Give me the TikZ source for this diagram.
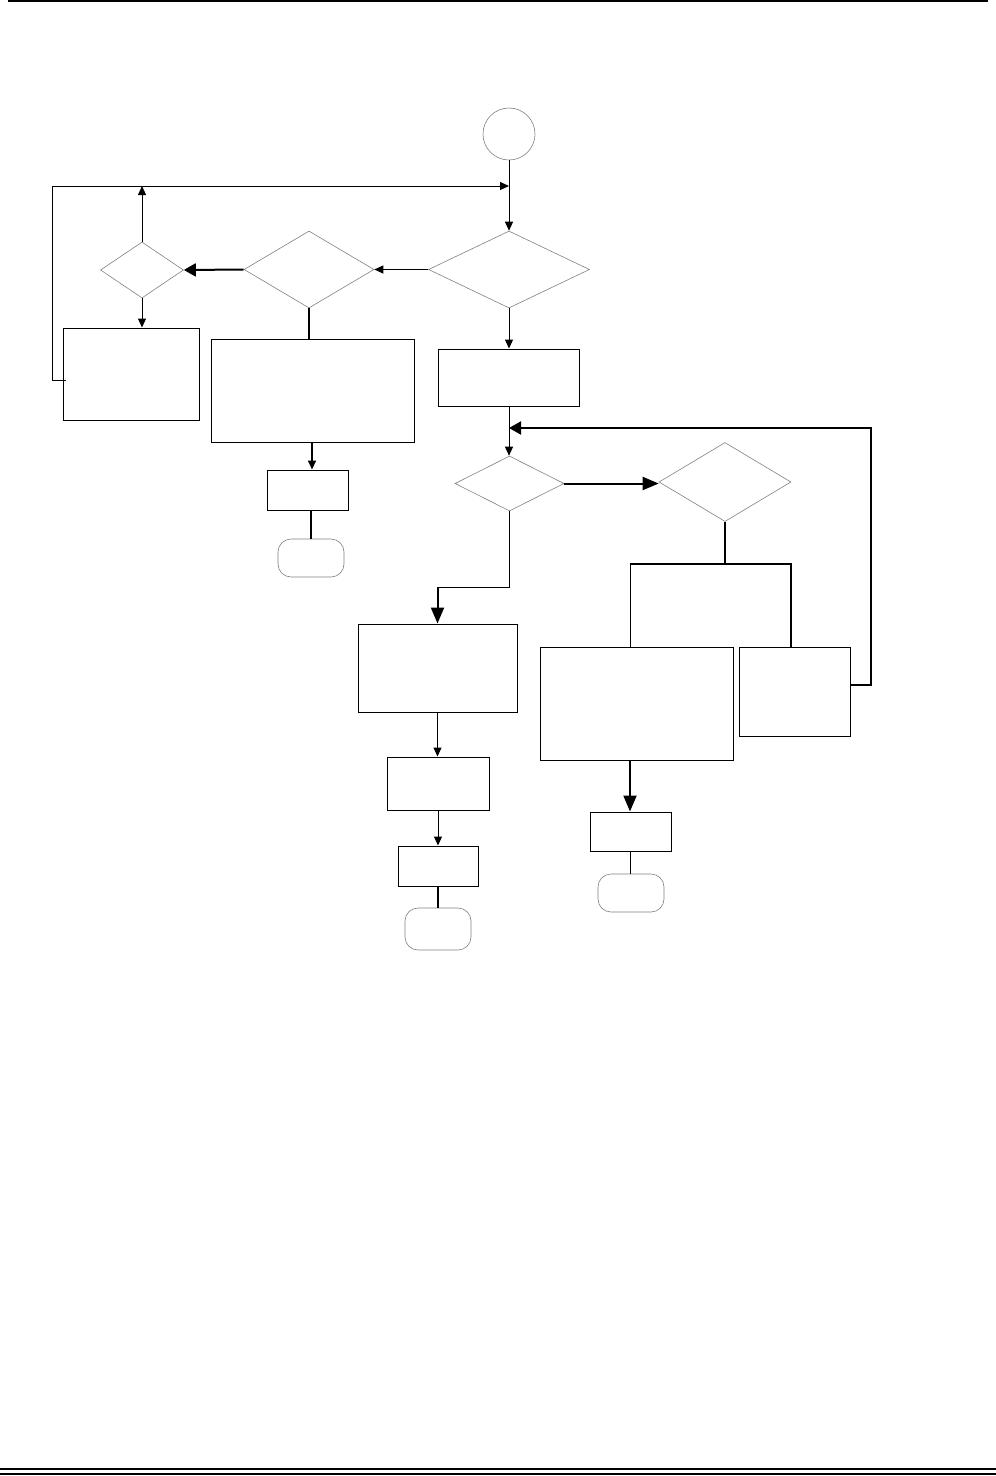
\documentclass[tikz,border=0pt]{standalone}
\usetikzlibrary{shapes.geometric,arrows.meta}
\begin{document}
\begin{tikzpicture}[x=1pt,y=-1pt,
  box/.style={draw,line width=1pt,inner sep=0pt,minimum width=#1},
  dia/.style={draw=gray,line width=0.6pt,diamond,inner sep=0pt},
  term/.style={draw=gray,line width=0.6pt,rounded corners=13pt,inner sep=0pt,minimum width=66pt},
  thin/.style={line width=1pt},
  thick2/.style={line width=2pt},
  ta/.style={-{Triangle[length=9pt,width=8pt]}},
  tb/.style={-{Triangle[length=16pt,width=13pt]}},
  tm/.style={-{Triangle[length=12pt,width=13pt]}}]
\useasboundingbox (0,0) rectangle (996,1476);
% page rules
\draw[line width=2.5pt] (8,1) -- (988,1);
\draw[line width=1.8pt] (0,1469) -- (996,1469);
\draw[line width=1.8pt] (0,1474) -- (996,1474);
% nodes
\node[circle,draw=gray,line width=0.6pt,minimum size=52pt,inner sep=0pt] (st) at (509,134) {};
\node[dia,minimum width=161pt,minimum height=77pt] (d1) at (509,269.5) {};
\node[dia,minimum width=130pt,minimum height=77pt] (d2) at (309,269.5) {};
\node[dia,minimum width=83pt,minimum height=56pt] (d3) at (142,270) {};
\node[box=136pt,minimum height=92pt] (b1) at (131,374) {};
\node[box=203pt,minimum height=103pt] (b2) at (312.5,390.5) {};
\node[box=81pt,minimum height=40pt] (b3) at (307.5,490) {};
\node[term,minimum height=38pt] (t1) at (311,558) {};
\node[box=141pt,minimum height=57pt] (b4) at (509,377.5) {};
\node[dia,minimum width=109pt,minimum height=55pt] (d4) at (509.5,483.5) {};
\node[dia,minimum width=132pt,minimum height=79pt] (d5) at (725,482) {};
\node[box=159pt,minimum height=88pt] (b5) at (437.5,668) {};
\node[box=102pt,minimum height=53pt] (b6) at (438,783.5) {};
\node[box=80pt,minimum height=40pt] (b8) at (438,866) {};
\node[term,minimum height=42pt] (t2) at (438,929) {};
\node[box=193pt,minimum height=113pt] (b9) at (636.5,703.5) {};
\node[box=111pt,minimum height=89pt] (b7) at (794.5,691.5) {};
\node[box=81pt,minimum height=39pt] (b10) at (630.5,831.5) {};
\node[term,minimum height=38pt] (t3) at (631,893) {};
% junction coordinates
\coordinate (j1) at (509,186);
\coordinate (j2) at (509,428);
\coordinate (fs) at (66,380);
\coordinate (fl) at (52.5,380);
\coordinate (fr) at (871,685);
\coordinate (k1) at (437.5,587);
\coordinate (k2) at (725,564);
\coordinate (kl) at (630,564);
\coordinate (kr) at (791,564);
% connectors
\draw[thin,ta] (st.south) -- (d1.north);
\draw[thin,ta] (fs) -- (fl) |- (j1);
\draw[thin,ta] (d1.west) -- (d2.east);
\draw[thick2,tm] (d2.west) -- (d3.east);
\draw[thin,ta] (d3.north) -- (d3.north |- j1);
\draw[thin,ta] (d3.south) -- (d3.south |- b1.north);
\draw[thick2] (d2.south) -- (d2.south |- b2.north);
\draw[thick2,ta] (b2.south -| 312,0) -- (b3.north -| 312,0);
\draw[thick2] (b3.south -| 311,0) -- (t1.north);
\draw[thin,ta] (d1.south) -- (b4.north);
\draw[thin,ta] (b4.south) -- (d4.north -| b4.south);
\draw[thick2,tm] (b7.east |- fr) -- (fr) |- (j2);
\draw[thick2,tb] (d4.east) -- (d4.east -| d5.west);
\draw[thin] (d4.south) |- (k1);
\draw[thick2,tb] (k1) -- (b5.north);
\draw[thin,ta] (b5.south) -- (b5.south |- b6.north);
\draw[thin,ta] (b6.south) -- (b8.north);
\draw[thick2] (b8.south) -- (t2.north);
\draw[thick2] (d5.south) -- (k2);
\draw[thick2] (kl) -- (kr) -- (kr |- b7.north);
\draw[thin] (kl) -- (kl |- b9.north);
\draw[thick2,tb] (b9.south -| kl) -- (b10.north -| kl);
\draw[thin] (b10.south -| kl) -- (t3.north -| kl);
\end{tikzpicture}
\end{document}
